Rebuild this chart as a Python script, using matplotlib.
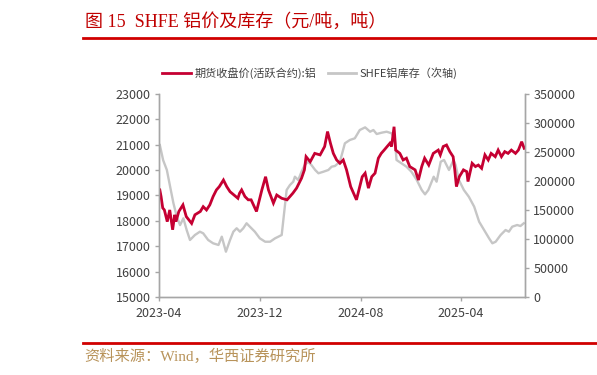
import matplotlib
matplotlib.use("Agg")
import matplotlib.pyplot as plt
import pandas as pd
from matplotlib.lines import Line2D

# ---------------- data ----------------
price_dates = [
    "2023-04-03", "2023-04-06", "2023-04-10", "2023-04-14", "2023-04-21", "2023-04-27",
    "2023-05-04", "2023-05-09", "2023-05-12", "2023-05-19", "2023-05-29", "2023-06-06",
    "2023-06-19", "2023-06-27", "2023-07-10", "2023-07-17", "2023-07-25", "2023-08-02",
    "2023-08-10", "2023-08-18", "2023-08-25", "2023-09-04", "2023-09-12", "2023-09-20",
    "2023-10-09", "2023-10-13", "2023-10-18", "2023-10-26", "2023-11-03", "2023-11-10",
    "2023-11-23", "2023-12-06", "2023-12-15", "2023-12-22", "2024-01-03", "2024-01-11",
    "2024-01-23", "2024-02-05", "2024-02-19", "2024-02-28", "2024-03-11", "2024-03-18",
    "2024-03-22", "2024-04-01", "2024-04-12", "2024-04-25", "2024-05-06", "2024-05-13",
    "2024-05-20", "2024-05-27", "2024-06-04", "2024-06-12", "2024-06-20", "2024-06-28",
    "2024-07-08", "2024-07-15", "2024-07-22", "2024-07-26", "2024-08-05", "2024-08-12",
    "2024-08-20", "2024-08-28", "2024-09-05", "2024-09-13", "2024-09-20", "2024-09-27",
    "2024-10-11", "2024-10-15", "2024-10-21", "2024-10-25", "2024-11-04", "2024-11-12",
    "2024-11-20", "2024-11-28", "2024-12-11", "2024-12-19", "2024-12-27", "2025-01-03",
    "2025-01-13", "2025-01-24", "2025-02-05", "2025-02-10", "2025-02-17", "2025-02-25",
    "2025-03-05", "2025-03-13", "2025-03-17", "2025-03-21", "2025-03-28", "2025-04-07",
    "2025-04-15", "2025-04-18", "2025-04-28", "2025-05-06", "2025-05-13", "2025-05-21",
    "2025-05-29", "2025-06-06", "2025-06-13", "2025-06-23", "2025-06-30", "2025-07-08",
    "2025-07-16", "2025-07-24", "2025-08-01", "2025-08-11", "2025-08-18", "2025-08-26",
    "2025-09-01",
]
price_values = [
    19220, 18960, 18510, 18430, 17970, 18430,
    17650, 18240, 17970, 18370, 18630, 18170,
    17900, 18240, 18370, 18560, 18430, 18630,
    18960, 19220, 19350, 19610, 19350, 19150,
    18890, 19090, 19220, 18960, 18830, 18830,
    18370, 19220, 19740, 19220, 18700, 19020,
    18890, 18830, 19090, 19290, 19680, 20010,
    20530, 20330, 20660, 20600, 20930, 21520,
    21060, 20660, 20400, 20270, 20400, 20010,
    19350, 19090, 18830, 19090, 19740, 19880,
    19290, 19740, 19880, 20470, 20660, 20790,
    21060, 20930, 21710, 20790, 20660, 20400,
    20470, 20140, 20010, 19610, 20140, 20470,
    20200, 20660, 20790, 20600, 20930, 20990,
    20730, 20530, 20010, 19350, 19740, 20010,
    19940, 19550, 20270, 20140, 20200, 20070,
    20600, 20400, 20660, 20530, 20790, 20530,
    20730, 20660, 20790, 20660, 20790, 21120,
    20860,
]

stock_dates = [
    "2023-04-03", "2023-04-11", "2023-04-20", "2023-04-28", "2023-05-06", "2023-05-14",
    "2023-05-22", "2023-05-30", "2023-06-07", "2023-06-15", "2023-06-27", "2023-07-09",
    "2023-07-17", "2023-07-29", "2023-08-10", "2023-08-23", "2023-08-31", "2023-09-10",
    "2023-09-20", "2023-09-28", "2023-10-06", "2023-10-14", "2023-10-22", "2023-10-30",
    "2023-11-07", "2023-11-19", "2023-12-01", "2023-12-14", "2023-12-26", "2024-01-07",
    "2024-01-15", "2024-01-23", "2024-01-27", "2024-02-04", "2024-02-12", "2024-02-20",
    "2024-02-24", "2024-03-03", "2024-03-11", "2024-03-19", "2024-03-27", "2024-04-04",
    "2024-04-13", "2024-04-21", "2024-05-03", "2024-05-15", "2024-05-23", "2024-05-31",
    "2024-06-12", "2024-06-24", "2024-07-06", "2024-07-18", "2024-07-30", "2024-08-12",
    "2024-08-24", "2024-09-01", "2024-09-09", "2024-09-21", "2024-10-03", "2024-10-15",
    "2024-10-23", "2024-10-27", "2024-11-08", "2024-11-20", "2024-12-02", "2024-12-15",
    "2024-12-27", "2025-01-04", "2025-01-12", "2025-01-25", "2025-02-01", "2025-02-11",
    "2025-02-19", "2025-03-03", "2025-03-14", "2025-03-19", "2025-03-27", "2025-04-08",
    "2025-04-20", "2025-05-03", "2025-05-15", "2025-05-27", "2025-06-08", "2025-06-16",
    "2025-06-24", "2025-07-06", "2025-07-18", "2025-07-26", "2025-08-03", "2025-08-15",
    "2025-08-23", "2025-08-31",
]
stock_values = [
    262000, 236000, 219000, 190000, 161500, 138500,
    124000, 135700, 115500, 98300, 106900, 112600,
    109800, 98300, 92600, 89700, 104000, 78100,
    98300, 112600, 118500, 112600, 118500, 127100,
    121200, 112600, 101200, 95300, 95300, 101200,
    104000, 106900, 132800, 184500, 193100, 198800,
    207400, 201700, 216000, 227600, 233300, 227600,
    219000, 213300, 216000, 219000, 224700, 225900,
    233300, 265000, 270700, 273600, 287900, 292500,
    285000, 287900, 281000, 283300, 285000, 282200,
    270700, 236200, 230500, 224700, 216000, 201700,
    184500, 177000, 184500, 207400, 198800, 233300,
    236200, 219000, 236200, 227600, 201700, 184500,
    172900, 155700, 129800, 115500, 101200, 92600,
    95300, 106900, 115500, 112600, 121200, 124100,
    122400, 127100,
]

x_tick_labels = ["2023-04", "2023-12", "2024-08", "2025-04"]
left_ticks = list(range(15000, 23001, 1000))
right_ticks = list(range(0, 350001, 50000))

title_text = "图 15  SHFE 铝价及库存（元/吨，吨）"
source_text = "资料来源：Wind，华西证券研究所"
price_label = "期货收盘价(活跃合约):铝"
stock_label = "SHFE铝库存（次轴)"

# ---------------- style ----------------
plt.rcParams["font.family"] = ["Noto Sans CJK SC", "DejaVu Sans"]
RED = "#C50032"
GRAY = "#C6C6C6"
SPINE = "#A6A6A6"
TXT = "#404040"

fig = plt.figure(figsize=(5.97, 3.75), dpi=100)
ax = fig.add_axes([159 / 597, 1 - 297 / 375, (525 - 159) / 597, (297 - 94) / 375])
ax2 = ax.twinx()

pdates = pd.to_datetime(price_dates)
sdates = pd.to_datetime(stock_dates)

ax2.plot(sdates, stock_values, color=GRAY, lw=1.7, solid_joinstyle="round")
ax.plot(pdates, price_values, color=RED, lw=2.0, solid_joinstyle="miter")
ax.set_zorder(ax2.get_zorder() + 1)
ax.patch.set_visible(False)

ax.set_xlim(pd.Timestamp("2023-04-01"), pd.Timestamp("2025-09-03"))
ax.set_ylim(15000, 23000)
ax2.set_ylim(0, 350000)
ax.set_yticks(left_ticks)
ax2.set_yticks(right_ticks)
ax.set_xticks(pd.to_datetime([s + "-01" for s in x_tick_labels]))
ax.set_xticklabels(x_tick_labels)

for a in (ax, ax2):
    a.spines["top"].set_visible(False)
    for s in ("left", "right", "bottom"):
        a.spines[s].set_color(SPINE)
        a.spines[s].set_linewidth(1.0)
    a.tick_params(axis="both", colors=SPINE, labelcolor=TXT, labelsize=9,
                  length=3, width=1.0, direction="out")
ax.tick_params(axis="x", pad=4)
ax.tick_params(axis="y", pad=3)
ax2.tick_params(axis="y", pad=3)

# legend
handles = [Line2D([], [], color=RED, lw=2), Line2D([], [], color=GRAY, lw=2)]
fig.legend(handles, [price_label, stock_label], loc="center", ncol=2,
           bbox_to_anchor=(310 / 597, 1 - 73 / 375), frameon=False,
           fontsize=8, handlelength=2.6, handletextpad=0.3, columnspacing=1.0,
           labelcolor=TXT)

# title and source
fig.text(85 / 597, 1 - 22 / 375, title_text, fontsize=13, color="#C00000",
         family=["Liberation Serif", "Noto Sans CJK SC"], va="center", ha="left")
fig.add_artist(Line2D([83 / 597, 1.0], [1 - 38 / 375, 1 - 38 / 375],
                      color="#D00000", lw=2.0, transform=fig.transFigure))
fig.add_artist(Line2D([83 / 597, 1.0], [1 - 343 / 375, 1 - 343 / 375],
                      color="#D00000", lw=2.0, transform=fig.transFigure))
fig.text(84 / 597, 1 - 356 / 375, source_text, fontsize=11, color="#B8935A",
         family=["Liberation Serif", "Noto Sans CJK SC"], va="center", ha="left")

fig.savefig("out.png", dpi=100)
